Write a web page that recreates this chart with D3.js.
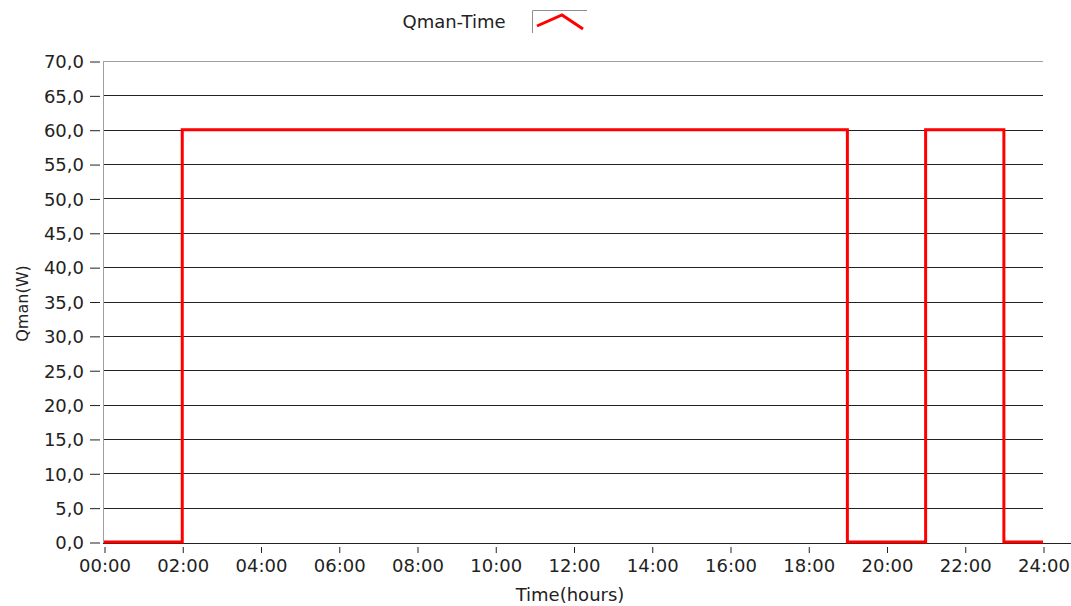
<!DOCTYPE html>
<html>
<head>
<meta charset="utf-8">
<script src="https://cdn.jsdelivr.net/npm/d3@7"></script>
<style>
  html, body { margin: 0; padding: 0; background: #fff; }
  svg text { font-family: "DejaVu Sans", Verdana, sans-serif; fill: #222; }
</style>
</head>
<body>
<svg id="chart" width="1071" height="606"></svg>
<script>
// Step profile of Qman over one day (hour, watts); each value holds until the next hour
const hours  = [0, 2, 19, 21, 23, 24];
const qman   = [0, 60, 0, 60, 0, 0];
const yTicks = [0, 5, 10, 15, 20, 25, 30, 35, 40, 45, 50, 55, 60, 65, 70];
const xTicks = [0, 2, 4, 6, 8, 10, 12, 14, 16, 18, 20, 22, 24];
const seriesName = "Qman-Time";
const xTitle = "Time(hours)";
const yTitle = "Qman(W)";

const svg = d3.select("#chart");
const m = { left: 103, right: 1043, top: 61, bottom: 542 };

const x = d3.scaleLinear().domain([0, 24]).range([m.left + 1, m.right]);
const y = d3.scaleLinear().domain([0, 70]).range([m.bottom, m.top]);

const fmtY = v => d3.format(".1f")(v).replace(".", ",");
const fmtX = h => String(h).padStart(2, "0") + ":00";

// horizontal grid lines
svg.append("g").selectAll("line").data(yTicks.filter(v => v > 0 && v < 70)).join("line")
  .attr("x1", m.left).attr("x2", m.right)
  .attr("y1", d => Math.round(y(d)) + 0.5).attr("y2", d => Math.round(y(d)) + 0.5)
  .attr("stroke", "#222").attr("stroke-width", 1);

// top frame line
svg.append("line")
  .attr("x1", m.left).attr("x2", m.right)
  .attr("y1", Math.round(y(70)) + 0.5).attr("y2", Math.round(y(70)) + 0.5)
  .attr("stroke", "#a0a0a0");

// left frame line
svg.append("line")
  .attr("x1", m.left + 0.5).attr("x2", m.left + 0.5)
  .attr("y1", m.top).attr("y2", m.bottom + 1)
  .attr("stroke", "#a0a0a0");

// bottom axis line
svg.append("line")
  .attr("x1", m.left).attr("x2", 1071)
  .attr("y1", m.bottom + 1.5).attr("y2", m.bottom + 1.5)
  .attr("stroke", "#222");

// y axis
const yAxis = d3.axisLeft(y).tickValues(yTicks).tickFormat(fmtY).tickSize(10).tickPadding(6);
const gy = svg.append("g").attr("transform", `translate(${m.left - 3},0.5)`).call(yAxis);
gy.select(".domain").remove();
gy.selectAll(".tick line").attr("stroke", "#222");
gy.selectAll(".tick text").style("font-size", "18px").attr("fill", "#222").attr("dy", "0.35em");

// x axis
const xAxis = d3.axisBottom(x).tickValues(xTicks).tickFormat(fmtX).tickSize(6).tickPadding(6);
const gx = svg.append("g").attr("transform", `translate(0.5,${m.bottom + 5})`).call(xAxis);
gx.select(".domain").remove();
gx.selectAll(".tick line").attr("stroke", "#222");
gx.selectAll(".tick text").style("font-size", "18px").attr("fill", "#222");

// series
const line = d3.line().x((d, i) => x(hours[i])).y(d => y(d)).curve(d3.curveStepAfter);
svg.append("path")
  .datum(qman)
  .attr("d", line)
  .attr("fill", "none")
  .attr("stroke", "#ff0000")
  .attr("stroke-width", 3);

// axis titles
svg.append("text").attr("x", 570).attr("y", 601)
  .attr("text-anchor", "middle").style("font-size", "18px").text(xTitle);
svg.append("text").attr("transform", `translate(28,${(m.top + m.bottom) / 2 + 2}) rotate(-90)`)
  .attr("text-anchor", "middle").style("font-size", "16px").text(yTitle);

// legend
svg.append("text").attr("x", 454).attr("y", 28).attr("text-anchor", "middle")
  .style("font-size", "18px").text(seriesName);
const lg = svg.append("g").attr("transform", "translate(532,10)");
lg.append("path").attr("d", "M0.5,23 V0.5 H55").attr("fill", "none").attr("stroke", "#909090");
lg.append("path").attr("d", "M5,16 L30,5 L51,19")
  .attr("fill", "none").attr("stroke", "#ff0000").attr("stroke-width", 3);
</script>
</body>
</html>
